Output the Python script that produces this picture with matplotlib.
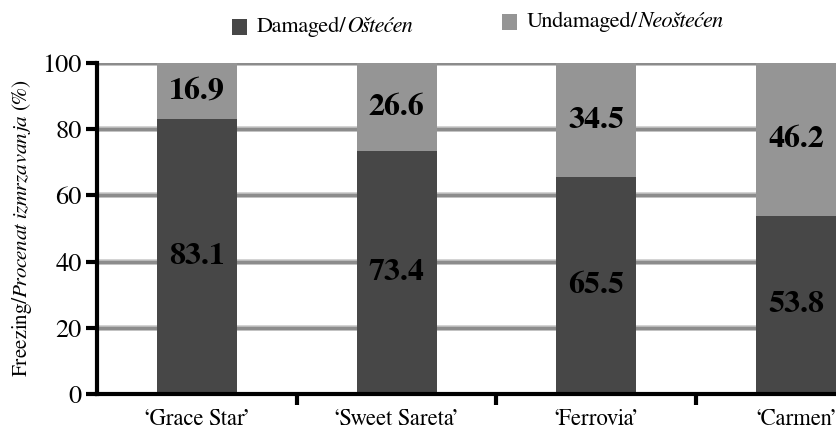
import matplotlib
matplotlib.use("Agg")
import matplotlib.pyplot as plt
from matplotlib.offsetbox import HPacker, TextArea, DrawingArea, AnchoredOffsetbox
from matplotlib.patches import Rectangle

plt.rcParams['font.family'] = ['FreeSerif', 'Liberation Serif', 'DejaVu Serif']
plt.rcParams['mathtext.fontset'] = 'custom'
plt.rcParams['mathtext.rm'] = 'FreeSerif'
plt.rcParams['mathtext.it'] = 'FreeSerif:italic'

cultivars = ["‘Grace Star’", "‘Sweet Sareta’", "‘Ferrovia’", "‘Carmen’"]
damaged = [83.1, 73.4, 65.5, 53.8]
undamaged = [16.9, 26.6, 34.5, 46.2]
yticks = [0, 20, 40, 60, 80, 100]

dark = '#474747'
light = '#959595'
grid = '#8c8c8c'

fig = plt.figure(figsize=(8.36, 4.33), dpi=100)
ax = fig.add_axes([97 / 836, 1 - 394 / 433, 1 - 97 / 836, (394 - 63) / 433])

x = list(range(len(cultivars)))
w = 0.4
ax.bar(x, damaged, width=w, color=dark, zorder=3)
ax.bar(x, undamaged, width=w, bottom=damaged, color=light, zorder=3)

for xi, d, u in zip(x, damaged, undamaged):
    ax.text(xi, d / 2, f"{d:.1f}", ha='center', va='center',
            fontsize=23, fontweight='bold', color='black', zorder=4)
    ax.text(xi, d + u / 2, f"{u:.1f}", ha='center', va='center',
            fontsize=23, fontweight='bold', color='black', zorder=4)

for yv in yticks[1:]:
    ax.axhline(yv, color='#c8c8c8', lw=4, zorder=1)
    ax.axhline(yv, color=grid, lw=2.5, zorder=1)

ax.set_xlim(-0.5, 3.2)
ax.set_ylim(0, 100)
ax.set_yticks(yticks)
ax.set_yticklabels([str(v) for v in yticks], fontsize=19)
ax.set_xticks([0.5, 1.5, 2.5])
ax.set_xticklabels([])
for xi, name in zip(x, cultivars):
    ax.text(xi, -4.5, name, ha='center', va='top', fontsize=16.3,
            transform=ax.transData, clip_on=False)

for s in ['top', 'right']:
    ax.spines[s].set_visible(False)
for s in ['left', 'bottom']:
    ax.spines[s].set_linewidth(3)
    ax.spines[s].set_color('black')
    ax.spines[s].set_zorder(5)
ax.tick_params(axis='both', direction='out', length=8, width=3, color='black')
ax.tick_params(axis='y', pad=3)

ax.set_ylabel(r"Freezing/$\mathit{Procenat\ izmrzavanja}$ (%)", fontsize=15.3, labelpad=6)


def legend_item(color, plain, italic, fx, fy):
    da = DrawingArea(11, 11.5, 0, 0)
    da.add_artist(Rectangle((0, 0), 11, 11.5, facecolor=color, edgecolor='none'))
    t1 = TextArea(plain, textprops=dict(fontsize=16))
    t2 = TextArea(italic, textprops=dict(fontsize=16, style='italic'))
    words = HPacker(children=[t1, t2], align='baseline', pad=0, sep=0)
    packed = HPacker(children=[da, words], align='center', pad=0, sep=7)
    anch = AnchoredOffsetbox(loc='center left', child=packed, frameon=False,
                             bbox_to_anchor=(fx, fy), bbox_transform=fig.transFigure,
                             borderpad=0, pad=0)
    fig.add_artist(anch)


legend_item(dark, "Damaged/", "Oštećen", 232 / 836, 1 - 27 / 433)
legend_item(light, "Undamaged/", "Neoštećen", 502 / 836, 1 - 22 / 433)

fig.savefig("out.png", dpi=100)
